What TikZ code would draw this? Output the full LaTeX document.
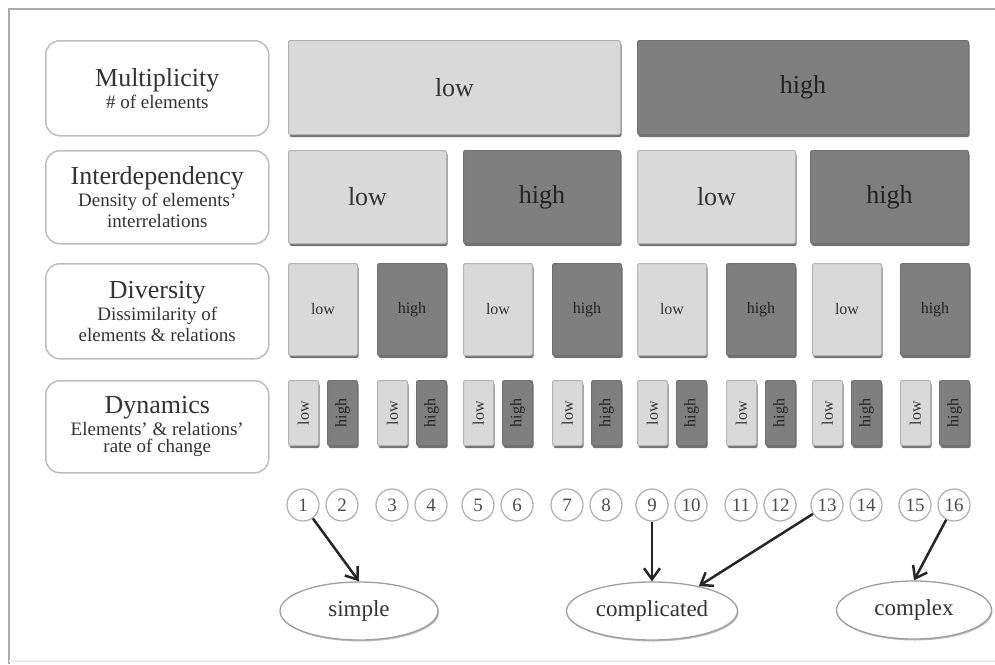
\documentclass[tikz,border=0pt]{standalone}
\usepackage{fontspec}
\setmainfont{Liberation Serif}
\usetikzlibrary{arrows.meta,shadows,shapes.geometric}

\definecolor{lowfill}{HTML}{D9D9D9}
\definecolor{highfill}{HTML}{7F7F7F}
\definecolor{lowline}{HTML}{B3B3B3}
\definecolor{highline}{HTML}{707070}
\definecolor{frameline}{HTML}{ABABAB}
\definecolor{labelline}{HTML}{BDBDBD}
\definecolor{textgray}{HTML}{333333}
\definecolor{darktext}{HTML}{222222}
\definecolor{arrowcol}{HTML}{262626}

\newcommand{\fs}[1]{\fontsize{#1}{#1}\selectfont}

\tikzset{
  level/.style={rectangle, rounded corners=2pt, line width=1pt, inner sep=0pt,
    anchor=north west,
    drop shadow={shadow xshift=1pt, shadow yshift=-2.5pt, fill=black!55, opacity=1}},
  lowbox/.style={level, fill=lowfill, draw=lowline, text=textgray},
  highbox/.style={level, fill=highfill, draw=highline, text=darktext},
  bigtext/.style={font=\fs{26}},
  midtext/.style={font=\fs{16}},
  labelbox/.style={rectangle, rounded corners=14pt, draw=labelline, line width=1.5pt,
    fill=white, anchor=north west, minimum width=223pt, inner sep=0pt,
    align=center, text=textgray},
  numcircle/.style={circle, draw=lowline, line width=1.3pt, fill=white,
    minimum size=32pt, inner sep=0pt, text=black!70, font=\fs{19}},
  outcome/.style={ellipse, draw=black!38, line width=1.3pt, fill=white,
    minimum height=58pt, inner sep=0pt, text=textgray, font=\fs{23},
    drop shadow={shadow xshift=1pt, shadow yshift=-1.5pt, fill=black!25, opacity=1}},
  arr/.style={draw=arrowcol, line width=2.5pt,
    -{Straight Barb[length=11pt,width=16pt,line width=2.5pt]}},
  frame/.style={draw=frameline, line width=2pt}
}

\begin{document}
\begin{tikzpicture}[x=1pt, y=-1pt]
\useasboundingbox (0,0) rectangle (995,664);

% outer frame
\draw[frame] (9,664) -- (9,9) -- (995,9);
\draw[draw=black!8, line width=1.5pt] (9,661) -- (995,661);

% row labels
\node[labelbox, minimum height=95pt] (lm) at (45,40)
  {{\fs{26}Multiplicity}\\[2pt]{\fs{19}\# of elements}};
\node[labelbox, minimum height=93pt] (li) at (45,150)
  {{\fs{26}Interdependency}\\[2pt]{\fs{19}Density of elements'}\\[3pt]{\fs{19}interrelations}};
\node[labelbox, minimum height=95pt] (ld) at (45,263)
  {{\fs{26}Diversity}\\[2pt]{\fs{19}Dissimilarity of}\\[3pt]{\fs{19}elements \& relations}};
\node[labelbox, minimum height=92pt] (ly) at (45,380)
  {{\fs{26}Dynamics}\\[2pt]{\fs{19}Elements' \& relations'}\\[3pt]{\fs{19}rate of change}};

% multiplicity
\node[lowbox, bigtext, minimum width=332pt, minimum height=94pt] (m1) at (288,40) {low};
\node[highbox, bigtext, minimum width=331pt, minimum height=94pt] (m2) at (637,40) {high};

% interdependency
\node[lowbox, bigtext, minimum width=158pt, minimum height=93pt] (i1) at (288,150) {low};
\node[highbox, bigtext, minimum width=157pt, minimum height=93pt] (i2) at (463,150) {high};
\node[lowbox, bigtext, minimum width=158pt, minimum height=93pt] (i3) at (637,150) {low};
\node[highbox, bigtext, minimum width=158pt, minimum height=93pt] (i4) at (810,150) {high};

% diversity
\tikzset{dbox/.style={midtext, minimum width=69pt, minimum height=92pt}}
\node[lowbox, dbox]  (d1) at (288,263) {low};
\node[highbox, dbox] (d2) at (377,263) {high};
\node[lowbox, dbox]  (d3) at (463,263) {low};
\node[highbox, dbox] (d4) at (552,263) {high};
\node[lowbox, dbox]  (d5) at (637,263) {low};
\node[highbox, dbox] (d6) at (726,263) {high};
\node[lowbox, dbox]  (d7) at (812,263) {low};
\node[highbox, dbox] (d8) at (900,263) {high};

% dynamics and numbered cases
\tikzset{ybox/.style={midtext, minimum width=30pt, minimum height=65pt}}
\foreach \L [count=\k] in {288,377,463,552,637,726,812,900} {
  \pgfmathtruncatemacro\a{2*\k-1}
  \pgfmathtruncatemacro\b{2*\k}
  \node[lowbox, ybox]  (y\a) at (\L,380)    {\rotatebox{90}{low}};
  \node[highbox, ybox] (y\b) at (\L+39,380) {\rotatebox{90}{high}};
  \node[numcircle] (c\a) at (\L+15,505) {\a};
  \node[numcircle] (c\b) at (\L+54,505) {\b};
}

% outcomes
\node[outcome, minimum width=158pt] (simple) at (359,611) {simple};
\node[outcome, minimum width=171pt] (complicated) at (652,611) {complicated};
\node[outcome, minimum width=155pt] (complex) at (914,610) {complex};

\draw[arr] (c1) -- (simple.north);
\draw[arr] (c9) -- (complicated.north);
\draw[arr] (c13) -- (complicated.28);
\draw[arr] (c16) -- (complex.north);
\end{tikzpicture}
\end{document}
